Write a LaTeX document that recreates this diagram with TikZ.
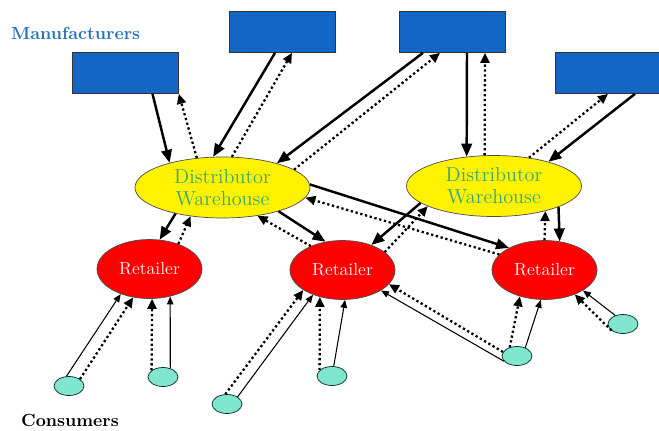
\documentclass[tikz,border=0pt]{standalone}
\usepackage{tikz}
\usetikzlibrary{arrows.meta,shapes.geometric,calc}
\definecolor{makerblue}{RGB}{20,102,196}
\definecolor{labelblue}{RGB}{42,114,184}
\definecolor{wareteal}{RGB}{50,168,115}
\definecolor{buyercyan}{RGB}{128,230,205}
\tikzstyle{maker} = [rectangle, minimum width=21.2mm, minimum height=8.2mm, fill=makerblue, draw=black!80, thin]
\tikzstyle{depot} = [ellipse, minimum width=35mm, minimum height=12.2mm, inner sep=0pt, fill=yellow, draw=black!70, thin, text=wareteal, align=center, font=\fontsize{11.5}{12.5}\selectfont]
\tikzstyle{shop} = [ellipse, minimum width=21mm, minimum height=11.8mm, inner sep=0pt, fill=red, draw=black!70, thin, text=red!8]
\tikzstyle{buyer} = [ellipse, minimum width=6mm, minimum height=3.8mm, inner sep=0pt, fill=buyercyan, draw=black!70!teal, thin]
\tikzstyle{goods} = [line width=1.4pt, -{Triangle[length=2.6mm,width=2.1mm]}]
\tikzstyle{info} = [line width=1.3pt, dash pattern=on 1.3pt off 1.5pt, -{Triangle[length=2mm,width=1.8mm]}]
\tikzstyle{buy} = [line width=0.6pt, -{Triangle[length=1.6mm,width=1.3mm]}]

\begin{document}
\begin{tikzpicture}[x=0.2mm, y=-0.2mm]
    \useasboundingbox (0,0) rectangle (659,430);

    % tiers
    \node [maker] (m1) at (125.5,73) {};
    \node [maker] (m2) at (282,32) {};
    \node [maker] (m3) at (452,32) {};
    \node [maker] (m4) at (608,73) {};
    \node [depot] (d1) at (222.5,187.5) {Distributor\\Warehouse};
    \node [depot] (d2) at (494,186) {Distributor\\Warehouse};
    \node [shop] (r1) at (149.5,269) {Retailer};
    \node [shop] (r2) at (342.5,270) {Retailer};
    \node [shop] (r3) at (544.5,270) {Retailer};
    \node [buyer] (c1) at (69,386) {};
    \node [buyer] (c2) at (163,377) {};
    \node [buyer] (c3) at (227,404) {};
    \node [buyer] (c4) at (332,376) {};
    \node [buyer] (c5) at (517,356) {};
    \node [buyer] (c6) at (623,324) {};
    \node [anchor=west, text=labelblue, font=\bfseries] (makers) at (5,33) {Manufacturers};
    \node [anchor=west, font=\bfseries] (buyers) at (15,420) {Consumers};

    % manufacturers <-> warehouses
    \draw [goods] ($(m1.south)+(27,0)$) -- (d1.155);
    \draw [info] (d1.131) -- (m1.south east);
    \draw [goods] ($(m2.south)+(-7,0)$) -- (d1.107);
    \draw [info] (d1.73) -- ($(m2.south)+(10,0)$);
    \draw [goods] ($(m3.south)+(-29,0)$) -- (d1.24);
    \draw [info] (d1.14) -- ($(m3.south)+(-12,0)$);
    \draw [goods] ($(m3.south)+(15,0)$) -- (d2.133);
    \draw [info] (d2.107) -- ($(m3.south)+(33,0)$);
    \draw [goods] ($(m4.south)+(27,0)$) -- (d2.24);
    \draw [info] (d2.39) -- (m4.south);

    % warehouses <-> retailers
    \draw [goods] (d1.209) -- (r1.71);
    \draw [info] (r1.41) -- (d1.222);
    \draw [goods] (d1.-23) -- (r2.121);
    \draw [info] (r2.143) -- (d1.-39);
    \draw [goods] (d1.2) -- (r3.148);
    \draw [info] (r3.161) -- (d1.-7);
    \draw [goods] (d2.193) -- (r2.41);
    \draw [info] (r2.23) -- (d2.197);
    \draw [goods] (d2.-18) -- (r3.62);
    \draw [info] (r3.90) -- (d2.-26);

    % consumers -> retailers
    \draw [buy] (c1.105) -- (r1.221);
    \draw [info] (c1.32) -- (r1.240);
    \draw [info] (c2.150) -- (r1.-85);
    \draw [buy] (c2.50) -- (r1.-53);
    \draw [info] (c3.100) -- (r2.207);
    \draw [buy] (c3.34) -- (r2.220);
    \draw [info] (c4.155) -- (r2.230);
    \draw [buy] (c4.80) -- (r2.-85);
    \draw [info] (c5.164) -- (r2.-17);
    \draw [buy] (c5.202) -- (r2.-28);
    \draw [info] (c5.130) -- (r3.227);
    \draw [buy] (c5.45) -- (r3.-97);
    \draw [buy] (c6.132) -- (r3.-28);
    \draw [info] (c6.210) -- (r3.-39);
\end{tikzpicture}
\end{document}
